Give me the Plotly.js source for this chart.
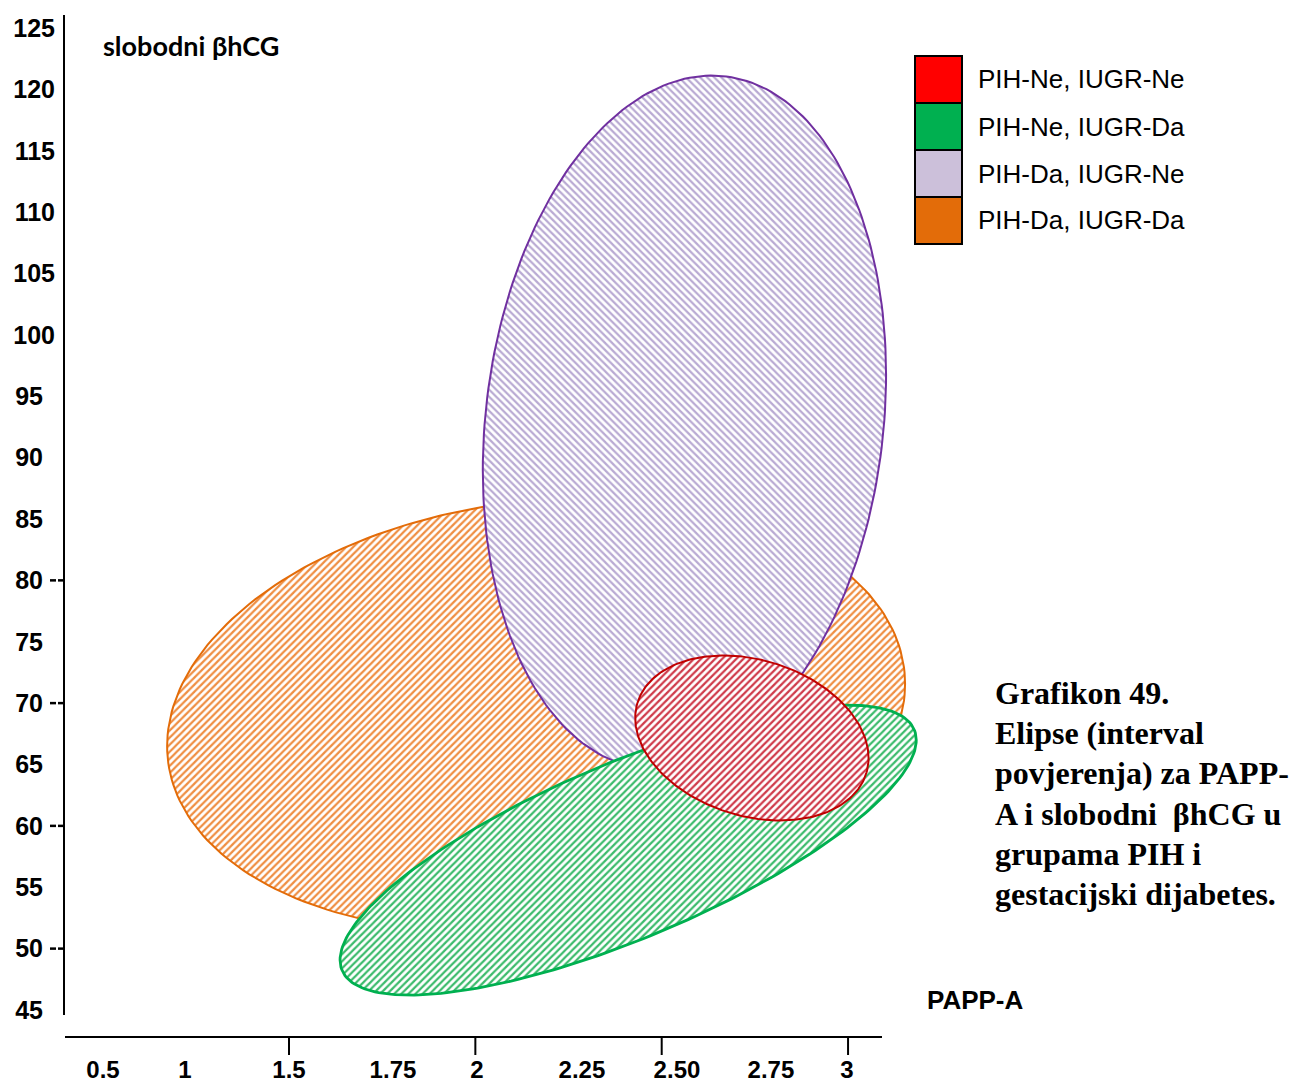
<!DOCTYPE html>
<html>
<head>
<meta charset="utf-8">
<script src="https://cdn.plot.ly/plotly-3.0.1.min.js"></script>
<style>
  html, body { margin: 0; padding: 0; background: #ffffff; }
  #chart { width: 1295px; height: 1084px; }
</style>
</head>
<body>
<div id="chart"></div>
<script>
// ---- data ----
const seriesNames = ['PIH-Ne, IUGR-Ne', 'PIH-Ne, IUGR-Da', 'PIH-Da, IUGR-Ne', 'PIH-Da, IUGR-Da'];
// confidence ellipses: centre (PAPP-A, slobodni βhCG), horizontal half-width,
// vertical offset of the rightmost point, and remaining vertical spread
const centerX = [2.742, 2.410, 2.561, 2.163];
const centerY = [67.16, 58.03, 92.86, 69.03];
const halfWidthX = [0.313, 0.773, 0.541, 0.990];
const tiltY = [-1.63, 8.96, 3.87, 2.53];
const spreadY = [6.52, 7.70, 28.0, 17.5];

const yTicksWide = [100, 105, 110, 115, 120, 125];
const yTicksNarrow = [45, 50, 55, 60, 65, 70, 75, 80, 85, 90, 95];
const yTickMarks = [50, 60, 70, 80];
const xTickText = ['0.5', '1', '1.5', '1.75', '2', '2.25', '2.50', '2.75', '3'];
const xTickPos = [1.001, 1.221, 1.5, 1.779, 2.004, 2.286, 2.541, 2.793, 2.997];
const xTickMarks = [1.5, 2, 2.5, 3];

const captionLines = ['Grafikon 49.', 'Elipse (interval', 'povjerenja) za PAPP-', 'A i slobodni  βhCG u', 'grupama PIH i', 'gestacijski dijabetes.'];

// ---- styles ----
const lineColors = ['#C00000', '#00B050', '#7030A0', '#E36C09'];
const hatchColors = ['#CF3A4A', '#3CBB6C', '#B9AAD3', '#EF8E42'];
const hatchShapes = ['/', '/', '\\', '/'];
const swatchColors = ['#FF0000', '#00B050', '#CCC0DA', '#E36C09'];
const lineWidths = [2, 2.8, 2, 2];

const W = 1295, H = 1084;
const plotRight = 935;
const mL = 65, mR = W - plotRight, mT = 15, mB = H - 1037;
const pw = W - mL - mR, ph = H - mT - mB;
const px = v => (v - mL) / pw;
const py = v => (1037 - v) / ph;

function ellipse(i) {
  const xs = [], ys = [];
  const n = 240;
  for (let k = 0; k <= n; k++) {
    const t = 2 * Math.PI * k / n;
    xs.push(centerX[i] + halfWidthX[i] * Math.cos(t));
    ys.push(centerY[i] + tiltY[i] * Math.cos(t) + spreadY[i] * Math.sin(t));
  }
  return { xs, ys };
}

// drawing order: orange, purple, green (base y axis), red on the overlaid y axis (drawn on top)
const order = [3, 2, 1, 0];
const traces = order.map(i => {
  const e = ellipse(i);
  return {
    type: 'scatter', mode: 'lines', x: e.xs, y: e.ys, name: seriesNames[i],
    fill: 'toself', fillcolor: 'white',
    fillpattern: { shape: hatchShapes[i], fgcolor: hatchColors[i], bgcolor: 'white', size: 5, solidity: 0.45 },
    line: { color: lineColors[i], width: lineWidths[i] },
    hoverinfo: 'skip', showlegend: false, xaxis: 'x', yaxis: i === 0 ? 'y2' : 'y'
  };
});

const xRange = [1.5 - (289 - 65) / 372.7, 1.5 + (plotRight - 289) / 372.7];
const yDomain = [(1037 - 1015) / ph, 1];
const yRange = [45 - 5 / 12.275, 125 + 13 / 12.275];

const tickFont = { family: 'Liberation Sans, Arial, sans-serif', size: 25, color: '#000', weight: 'bold' };
const xTickFont = { family: 'Liberation Sans, Arial, sans-serif', size: 24, color: '#000', weight: 'bold' };

const shapes = [];
// x axis line (stops at 882 px, the plot area is wider so the ellipses are not clipped)
shapes.push({ type: 'line', xref: 'paper', yref: 'paper', x0: px(65), x1: px(882), y0: 0, y1: 0,
  line: { color: '#000', width: 2 } });
xTickMarks.forEach(v => {
  shapes.push({ type: 'line', xref: 'x', yref: 'paper', x0: v, x1: v, y0: 0, y1: py(1055),
    line: { color: '#000', width: 2 } });
});
yTickMarks.forEach(v => {
  shapes.push({ type: 'line', xref: 'paper', yref: 'y', x0: px(50), x1: px(56), y0: v, y1: v,
    line: { color: '#000', width: 2.5 } });
  shapes.push({ type: 'line', xref: 'paper', yref: 'y', x0: px(58), x1: px(64), y0: v, y1: v,
    line: { color: '#000', width: 2.5 } });
});
const annotations = [];
seriesNames.forEach((nm, i) => {
  const top = 56 + i * 47, bot = top + 47;
  shapes.push({ type: 'rect', xref: 'paper', yref: 'paper', x0: px(915), x1: px(962), y0: py(bot), y1: py(top),
    fillcolor: swatchColors[i], line: { color: '#000', width: 2 } });
  annotations.push({ xref: 'paper', yref: 'paper', x: px(976), y: py((top + bot) / 2), text: nm, showarrow: false,
    xanchor: 'left', yanchor: 'middle', font: { family: 'Liberation Sans, Arial, sans-serif', size: 26, color: '#000' } });
});
annotations.push({ xref: 'paper', yref: 'paper', x: px(101), y: py(45), text: 'slobodni βhCG', showarrow: false,
  xanchor: 'left', yanchor: 'middle', font: { family: 'Lato, Open Sans, sans-serif', size: 27, color: '#000', weight: 'bold' } });
annotations.push({ xref: 'paper', yref: 'paper', x: px(925), y: py(1000), text: 'PAPP-A', showarrow: false,
  xanchor: 'left', yanchor: 'middle', font: { family: 'Liberation Sans, Arial, sans-serif', size: 26, color: '#000', weight: 'bold' } });
captionLines.forEach((ln, k) => {
  annotations.push({ xref: 'paper', yref: 'paper', x: px(993), y: py(693 + k * 40.2), text: ln, showarrow: false,
    xanchor: 'left', yanchor: 'middle', font: { family: 'Liberation Serif, Times New Roman, serif', size: 32, color: '#000', weight: 'bold' } });
});

const layout = {
  width: W, height: H,
  margin: { l: mL, r: mR, t: mT, b: mB, pad: 0 },
  paper_bgcolor: '#fff', plot_bgcolor: '#fff',
  showlegend: false,
  xaxis: {
    range: xRange, anchor: 'free', position: 0, showgrid: false, zeroline: false,
    showline: false,
    tickmode: 'array', tickvals: xTickPos, ticktext: xTickText, ticks: '',
    tickfont: xTickFont, ticklabelstandoff: 16, fixedrange: true
  },
  yaxis: {
    domain: yDomain, range: yRange, anchor: 'x', showgrid: false, zeroline: false,
    showline: true, linecolor: '#000', linewidth: 2,
    tickmode: 'array', tickvals: yTicksWide, ticktext: yTicksWide.map(String), ticks: '',
    tickfont: tickFont, ticklabelstandoff: 3, fixedrange: true
  },
  yaxis2: {
    domain: yDomain, range: yRange, overlaying: 'y', anchor: 'x', side: 'left', showgrid: false, zeroline: false,
    showline: false, tickmode: 'array', tickvals: yTicksNarrow, ticktext: yTicksNarrow.map(String), ticks: '',
    tickfont: tickFont, ticklabelstandoff: 21, fixedrange: true
  },
  shapes: shapes,
  annotations: annotations
};

Plotly.newPlot('chart', traces, layout, { staticPlot: true, displayModeBar: false });
</script>
</body>
</html>
